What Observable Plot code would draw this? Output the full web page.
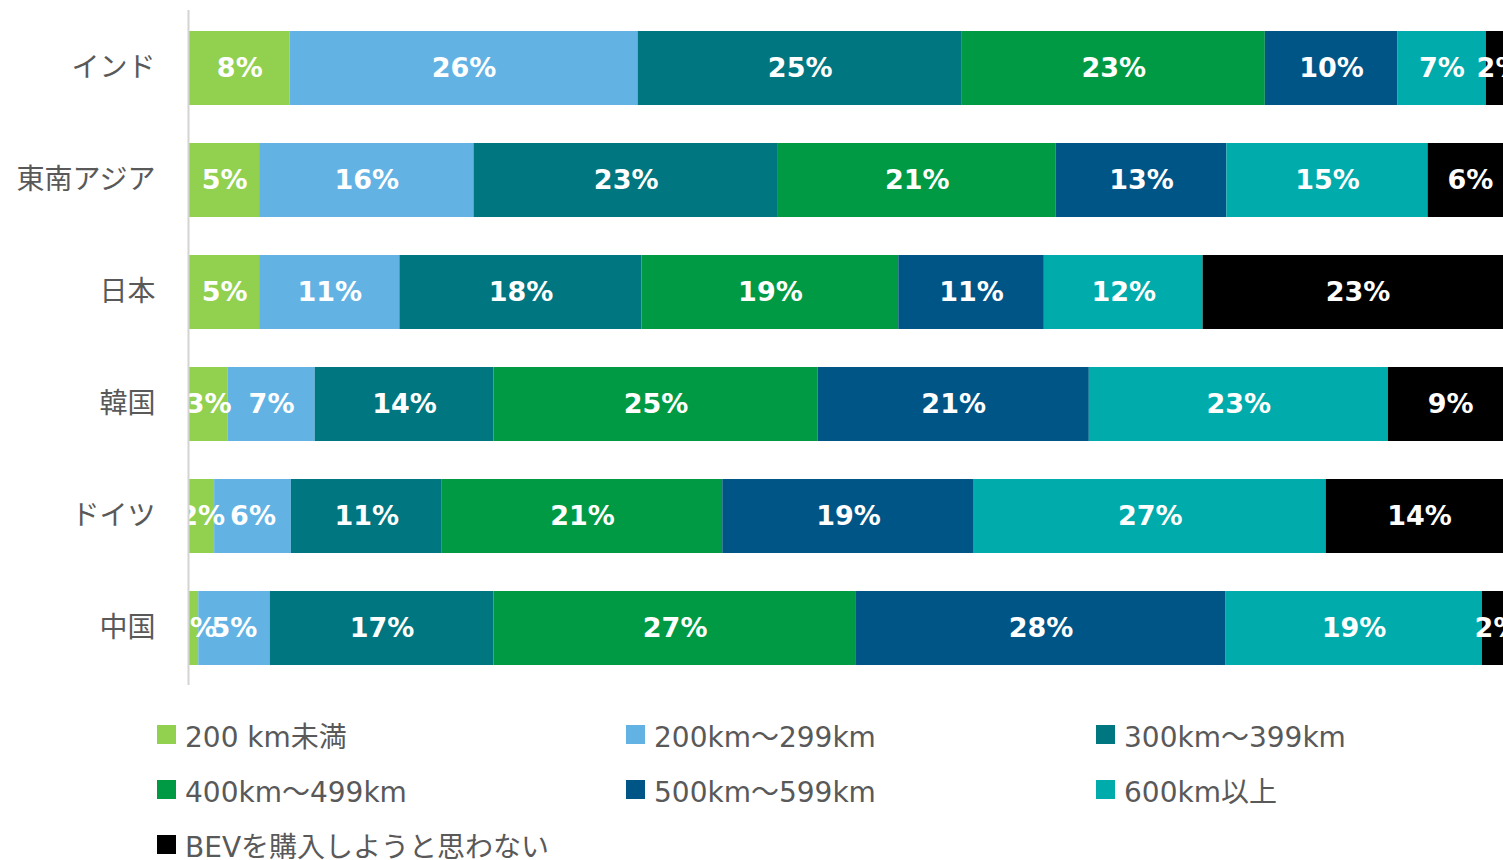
<!DOCTYPE html>
<html>
<head>
<meta charset="utf-8">
<script src="https://cdn.jsdelivr.net/npm/d3@7"></script>
<script src="https://cdn.jsdelivr.net/npm/@observablehq/plot@0.6"></script>
<style>
  html, body { margin: 0; padding: 0; background: #fff; overflow: hidden; }
  #chart svg { display: block; }
  .legend { display: grid; grid-template-columns: 469px 470px 400px; padding-left: 157px; margin-top: 17px;
    font-family: "DejaVu Sans", "Noto Sans CJK JP", sans-serif; font-size: 28px; color: #595959; }
  .legend .item { display: flex; align-items: center; height: 55px; white-space: nowrap; }
  .legend .sw { width: 19px; height: 19px; margin-right: 9px; flex: none; }
</style>
</head>
<body>
<div id="chart"></div>
<div class="legend" id="legend"></div>
<script>
const countries = ["インド", "東南アジア", "日本", "韓国", "ドイツ", "中国"];
const categories = ["200 km未満", "200km～299km", "300km～399km", "400km～499km", "500km～599km", "600km以上", "BEVを購入しようと思わない"];
const colors = ["#92D050", "#62B3E4", "#007680", "#009A44", "#005587", "#00ABAB", "#000000"];

// share (%) per category, in category order
const india     = [7.6, 26.3, 24.5, 22.9, 10.0, 6.7, 2.0];
const seAsia    = [5.3, 16.2, 23.0, 21.0, 12.9, 15.2, 6.4];
const japan     = [5.3, 10.6, 18.3, 19.4, 11.0, 12.0, 23.4];
const korea     = [2.9, 6.6, 13.5, 24.5, 20.5, 22.6, 9.4];
const germany   = [1.9, 5.8, 11.4, 21.2, 19.0, 26.6, 14.1];
const china     = [0.7, 5.4, 16.9, 27.4, 27.9, 19.4, 2.3];
const series = [india, seAsia, japan, korea, germany, china];

const data = countries.flatMap((c, i) => categories.map((cat, j) => ({country: c, cat, value: series[i][j]})));

const chart = Plot.plot({
  width: 1503,
  height: 690,
  marginTop: 10,
  marginBottom: 5,
  marginLeft: 189,
  marginRight: 0,
  style: {fontFamily: "'Noto Sans CJK JP', 'Noto Sans', sans-serif", background: "#fff"},
  x: {domain: [0, 99.3], axis: null},
  y: {domain: countries, paddingInner: 0.342, paddingOuter: 0.171, label: null},
  color: {domain: categories, range: colors},
  marks: [
    Plot.barX(data, Plot.stackX({x: "value", y: "country", fill: "cat", order: categories, clip: true})),
    Plot.text(data, Plot.stackX({x: "value", y: "country", z: "cat", order: categories,
      text: d => Math.round(d.value) + "%", fill: "white", fontWeight: "bold", fontSize: 27,
      fontFamily: "'DejaVu Sans', sans-serif", clip: true})),
    Plot.ruleX([0], {stroke: "#d4d4d4", strokeWidth: 2, dx: -1}),
    Plot.axisY({tickSize: 0, tickPadding: 34, fontSize: 28, fill: "#595959", label: null})
  ]
});
document.getElementById("chart").appendChild(chart);

const legend = document.getElementById("legend");
categories.forEach((cat, i) => {
  const item = document.createElement("div");
  item.className = "item";
  const sw = document.createElement("span");
  sw.className = "sw";
  sw.style.background = colors[i];
  const t = document.createElement("span");
  t.textContent = cat;
  item.appendChild(sw);
  item.appendChild(t);
  legend.appendChild(item);
});
</script>
</body>
</html>
